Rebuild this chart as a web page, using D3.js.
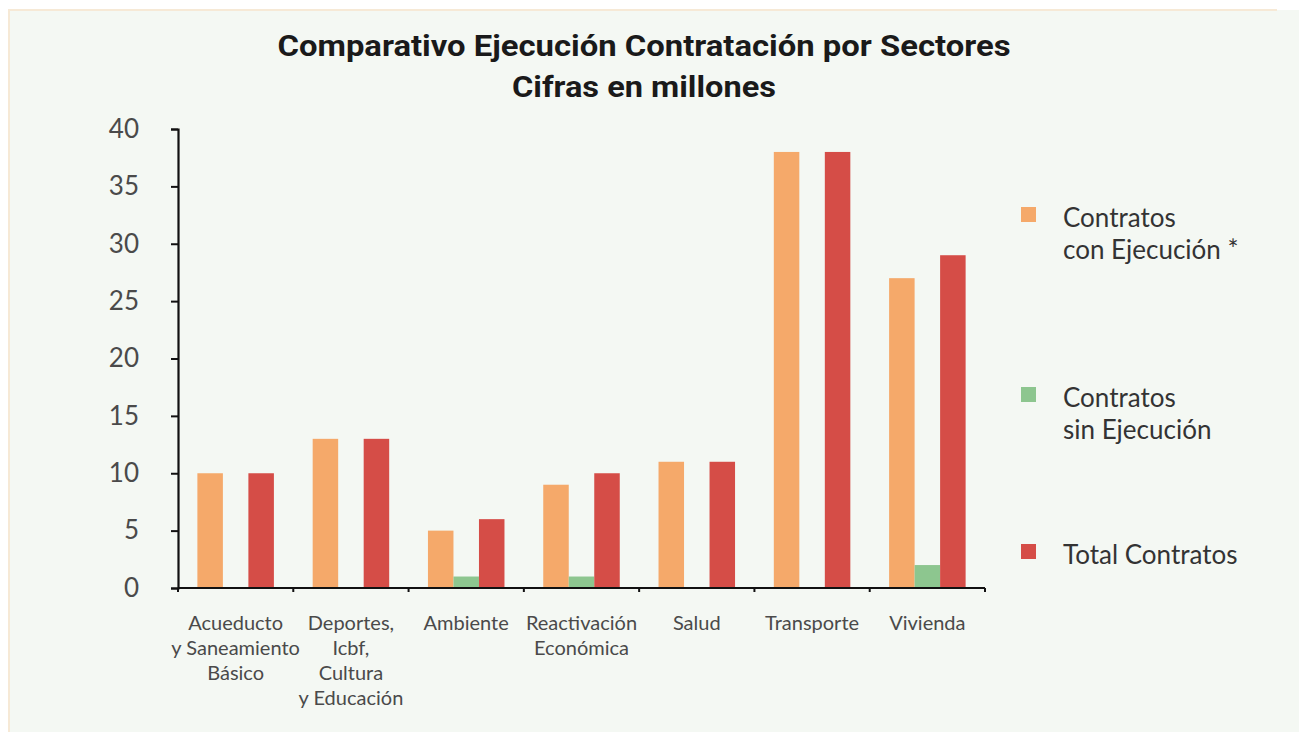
<!DOCTYPE html>
<html>
<head>
<meta charset="utf-8">
<script src="https://cdn.jsdelivr.net/npm/d3@7"></script>
<style>
  html, body { margin: 0; padding: 0; background: #ffffff; }
  svg { display: block; }
</style>
</head>
<body>
<svg id="chart" width="1299" height="732"></svg>
<script>
// chart data
const categories = [
  ['Acueducto', 'y Saneamiento', 'Básico'],
  ['Deportes,', 'Icbf,', 'Cultura', 'y Educación'],
  ['Ambiente'],
  ['Reactivación', 'Económica'],
  ['Salud'],
  ['Transporte'],
  ['Vivienda']
];
const seriesNames = [
  ['Contratos', 'con Ejecución *'],
  ['Contratos', 'sin Ejecución'],
  ['Total Contratos']
];
const conEjecucion = [10, 13, 5, 9, 11, 38, 27];
const sinEjecucion = [0, 0, 1, 1, 0, 0, 2];
const totalContratos = [10, 13, 6, 10, 11, 38, 29];
const yTicks = [0, 5, 10, 15, 20, 25, 30, 35, 40];
const colors = ['#f5a96a', '#8dc68f', '#d54d47'];

const svg = d3.select('#chart');
const W = 1299, H = 732;
const margin = { top: 129, right: 314, bottom: 144, left: 178 };

// background panel
svg.append('rect').attr('x', 8).attr('y', 10).attr('width', W - 8).attr('height', H - 10).attr('fill', '#f4f8f3');
svg.append('rect').attr('x', 8).attr('y', 9).attr('width', 1269).attr('height', 2).attr('fill', '#f6e9d6');
svg.append('rect').attr('x', 8).attr('y', 9).attr('width', 2).attr('height', H - 9).attr('fill', '#f6e9d6');

// title
const title = svg.append('text')
  .attr('text-anchor', 'middle')
  .attr('font-family', 'Roboto, sans-serif')
  .attr('font-weight', 700)
  .attr('font-size', 30)
  .attr('fill', '#1a1a1a');
title.append('tspan').attr('x', 644).attr('y', 56)
  .attr('textLength', 733).attr('lengthAdjust', 'spacingAndGlyphs')
  .text('Comparativo Ejecución Contratación por Sectores');
title.append('tspan').attr('x', 644).attr('y', 97)
  .attr('textLength', 264).attr('lengthAdjust', 'spacingAndGlyphs')
  .text('Cifras en millones');

// scales
const idx = d3.range(categories.length);
const x = d3.scaleBand().domain(idx).range([margin.left, W - margin.right]).padding(0);
const xs = d3.scaleBand().domain([0, 1, 2]).range([0, x.bandwidth()]).paddingInner(0).paddingOuter(0.76);
const y = d3.scaleLinear().domain([0, 40]).range([H - margin.bottom, margin.top]);

const rows = idx.map(i => [conEjecucion[i], sinEjecucion[i], totalContratos[i]]);

// bars
const groups = svg.append('g')
  .selectAll('g')
  .data(rows)
  .join('g')
  .attr('transform', (d, i) => `translate(${x(i)},0)`);

groups.selectAll('rect')
  .data(d => d.map((v, s) => ({ v, s })))
  .join('rect')
  .attr('x', d => xs(d.s))
  .attr('width', xs.bandwidth())
  .attr('y', d => y(d.v))
  .attr('height', d => y(0) - y(d.v))
  .attr('fill', d => colors[d.s]);

// y axis
const yAxis = svg.append('g')
  .attr('transform', `translate(${margin.left},0)`)
  .call(d3.axisLeft(y).tickValues(yTicks).tickSize(7).tickPadding(32));
yAxis.select('.domain').attr('stroke', '#111').attr('stroke-width', 2.2);
yAxis.selectAll('.tick line').attr('stroke', '#111').attr('stroke-width', 2);
yAxis.selectAll('.tick text')
  .attr('font-family', 'Lato, sans-serif')
  .attr('font-size', 26)
  .attr('fill', '#4a4a4a');

// x axis line with boundary ticks
const x0 = x.range()[0], x1 = x.range()[1];
svg.append('line')
  .attr('x1', x0).attr('x2', x1)
  .attr('y1', y(0)).attr('y2', y(0))
  .attr('stroke', '#111').attr('stroke-width', 2.2);
const bounds = idx.map(i => x(i)).concat([x1]);
svg.append('g')
  .selectAll('line')
  .data(bounds)
  .join('line')
  .attr('x1', d => d).attr('x2', d => d)
  .attr('y1', y(0)).attr('y2', y(0) + 4)
  .attr('stroke', '#111').attr('stroke-width', 2);

// category labels
const labels = svg.append('g')
  .selectAll('text')
  .data(categories)
  .join('text')
  .attr('text-anchor', 'middle')
  .attr('font-family', 'Lato, sans-serif')
  .attr('font-size', 20)
  .attr('fill', '#4a4a4a');
labels.selectAll('tspan')
  .data((d, i) => d.map(t => ({ t, i })))
  .join('tspan')
  .attr('x', d => x(d.i) + x.bandwidth() / 2)
  .attr('y', (d, j) => y(0) + 42 + j * 25)
  .text(d => d.t);

// legend
const legendY = [207, 387, 544];
const legend = svg.append('g')
  .selectAll('g')
  .data(seriesNames)
  .join('g')
  .attr('transform', (d, i) => `translate(1021,${legendY[i]})`);
legend.append('rect')
  .attr('width', 15).attr('height', 15)
  .attr('fill', (d, i) => colors[i]);
legend.append('text')
  .attr('font-family', 'Lato, sans-serif')
  .attr('font-size', 26)
  .attr('fill', '#333')
  .selectAll('tspan')
  .data(d => d)
  .join('tspan')
  .attr('x', 42)
  .attr('y', (d, j) => 20 + j * 32)
  .text(d => d);
</script>
</body>
</html>
